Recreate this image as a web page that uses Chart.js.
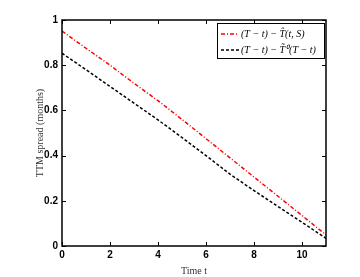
<!DOCTYPE html>
<html>
<head>
<meta charset="utf-8">
<script src="https://cdn.jsdelivr.net/npm/chart.js@4"></script>
<style>
  html, body { margin: 0; padding: 0; background: #fff; }
  canvas { display: block; }
</style>
</head>
<body>
<canvas id="myChart" width="360" height="277"></canvas>
<script>
// time axis (months)
const timeT = [0, 1, 2, 3, 4, 5, 6, 7, 8, 9, 10, 11];
const spreadHat = [0.951, 0.875, 0.80, 0.72, 0.643, 0.56, 0.475, 0.39, 0.305, 0.22, 0.135, 0.049];
const spreadTilde = [0.853, 0.78, 0.706, 0.632, 0.558, 0.48, 0.40, 0.318, 0.245, 0.175, 0.105, 0.034];
const xTicks = [0, 2, 4, 6, 8, 10];
const yTicks = [0, 0.2, 0.4, 0.6, 0.8, 1];
const labelHat = '(T − t) − T\u0302(t, S)';
const labelTilde = '(T − t) − T\u0303\u2070(T − t)';

const tickFont = { family: 'Liberation Sans', size: 10, weight: 'bold' };

const framePlugin = {
    id: 'frame',
    afterDraw(chart) {
        const c = chart.ctx;
        const a = chart.chartArea;
        const xs = chart.scales.x, ys = chart.scales.y;
        c.save();
        c.strokeStyle = '#000';
        c.lineWidth = 1.5;
        c.strokeRect(a.left, a.top, a.right - a.left, a.bottom - a.top);
        c.lineWidth = 1;
        c.beginPath();
        xTicks.forEach(v => {
            const px = Math.round(xs.getPixelForValue(v)) + 0.5;
            c.moveTo(px, a.bottom); c.lineTo(px, a.bottom - 4);
            c.moveTo(px, a.top); c.lineTo(px, a.top + 4);
        });
        yTicks.forEach(v => {
            const py = Math.round(ys.getPixelForValue(v)) + 0.5;
            c.moveTo(a.left, py); c.lineTo(a.left + 4, py);
            c.moveTo(a.right, py); c.lineTo(a.right - 4, py);
        });
        c.stroke();

        // legend box
        const bx = 217, by = 23, bw = 107, bh = 35;
        c.fillStyle = '#fff';
        c.fillRect(bx, by, bw, bh);
        c.lineWidth = 1;
        c.strokeRect(bx + 0.5, by + 0.5, bw, bh);
        const rows = [
            { y: by + 11, color: '#ff0000', dash: [4, 2, 1, 2], text: labelHat },
            { y: by + 27, color: '#000000', dash: [3, 2], text: labelTilde }
        ];
        c.font = 'italic 10px "Liberation Serif"';
        c.textBaseline = 'middle';
        rows.forEach(r => {
            c.strokeStyle = r.color;
            c.lineWidth = 1.5;
            c.setLineDash(r.dash);
            c.beginPath();
            c.moveTo(bx + 4, r.y); c.lineTo(bx + 22, r.y);
            c.stroke();
            c.setLineDash([]);
            c.fillStyle = '#000';
            c.fillText(r.text, bx + 24, r.y);
        });
        c.restore();
    }
};

const ctx = document.getElementById('myChart');
const PLOT = new Chart(ctx, {
    type: 'line',
    data: {
        datasets: [{
            label: labelHat,
            data: timeT.map((t, i) => ({ x: t, y: spreadHat[i] })),
            borderColor: '#ff0000',
            borderWidth: 1.5,
            borderDash: [4, 2, 1, 2],
            pointRadius: 0,
            tension: 0
        }, {
            label: labelTilde,
            data: timeT.map((t, i) => ({ x: t, y: spreadTilde[i] })),
            borderColor: '#000000',
            borderWidth: 1.5,
            borderDash: [3, 2],
            pointRadius: 0,
            tension: 0
        }]
    },
    options: {
        responsive: false,
        animation: false,
        layout: { padding: { top: 20, right: 34, left: 34, bottom: 0 } },
        plugins: { legend: { display: false }, tooltip: { enabled: false } },
        scales: {
            x: {
                type: 'linear',
                min: 0,
                max: 11,
                afterBuildTicks: s => { s.ticks = xTicks.map(v => ({ value: v })); },
                afterFit: s => { s.height = 31; },
                grid: { display: false, drawTicks: false },
                border: { display: false },
                ticks: { color: '#000', font: tickFont, padding: 3, maxRotation: 0 },
                title: {
                    display: true, text: 'Time t', color: '#333',
                    font: { family: 'Liberation Serif', size: 10 }, padding: { top: 0, bottom: 0 }
                }
            },
            y: {
                min: 0,
                max: 1,
                afterBuildTicks: s => { s.ticks = yTicks.map(v => ({ value: v })); },
                afterFit: s => { s.width = 28; },
                grid: { display: false, drawTicks: false },
                border: { display: false },
                ticks: { color: '#000', font: tickFont, padding: 4, callback: v => String(v) },
                title: {
                    display: true, text: 'TTM spread (months)', color: '#333',
                    font: { family: 'Liberation Serif', size: 10 }, padding: { top: 0, bottom: 0 }
                }
            }
        }
    },
    plugins: [framePlugin]
});
</script>
</body>
</html>
